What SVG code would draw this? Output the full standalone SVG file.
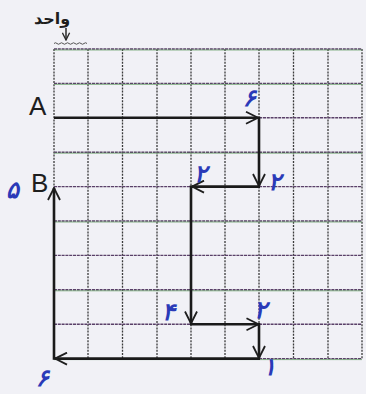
<svg xmlns="http://www.w3.org/2000/svg" width="366" height="394" viewBox="0 0 366 394">
<defs>
<marker id="ah" viewBox="0 0 14 14" refX="13" refY="7" markerWidth="14" markerHeight="14" markerUnits="userSpaceOnUse" orient="auto">
<path d="M1,1 L13,7 L1,13" fill="none" stroke="#1e1e1e" stroke-width="1.8"/>
</marker>
<marker id="ahs" viewBox="0 0 10 10" refX="9" refY="5" markerWidth="9" markerHeight="9" markerUnits="userSpaceOnUse" orient="auto">
<path d="M1,1 L9,5 L1,9" fill="none" stroke="#2a2a2a" stroke-width="1.5"/>
</marker>
</defs>
<style>
.vl{stroke:#3a3a3a;stroke-width:1.3;stroke-dasharray:2 1.2;fill:none}
.hl{stroke:#5a4068;stroke-width:1.4;stroke-dasharray:3 0.8;fill:none}
.hg{stroke:#5a9a5a;stroke-width:0.7;fill:none}
.p{stroke:#1a1a1a;stroke-width:2.6;fill:none;marker-end:url(#ah)}
.lab{font-family:"Liberation Sans",Arial,sans-serif;font-size:26px;fill:#1e1e1e}
.num{font-family:"Noto Sans","DejaVu Sans",sans-serif;font-size:24px;font-weight:bold;fill:#2a3ab8;font-style:italic}
</style>
<rect width="366" height="394" fill="#f1f1f6"/>
<g id="grid">
<path class="vl" d="M54,49V359M88,49V359M122.5,49V359M157,49V359M191,49V359M225,49V359M259,49V359M293.5,49V359M328,49V359M362,49V359"/>
<path class="hl" d="M54,49H362M54,83.4H362M54,117.8H362M54,152.2H362M54,186.6H362M54,221H362M54,255.4H362M54,289.8H362M54,324.2H362M54,358.6H362"/>
<path class="hg" d="M54,50H362M54,84.4H362M54,153.2H362M54,222H362M54,290.8H362M54,359.6H362"/>
</g>
<g id="unit">
<text x="52" y="24" font-family="'Noto Sans','DejaVu Sans',sans-serif" font-size="16" font-weight="bold" fill="#1e1e1e" text-anchor="middle">واحد</text>
<line x1="66" y1="28" x2="66" y2="40" stroke="#2a2a2a" stroke-width="1.5" marker-end="url(#ahs)"/>
<path d="M54,43.5 q1.5,-1.5 3,0 t3,0 t3,0 t3,0 t3,0 t3,0 t3,0 t3,0 t3,0 t3,0 t3,0" stroke="#555" stroke-width="1" fill="none"/>
</g>
<g id="A"><text class="lab" x="29" y="115">A</text></g>
<g id="B"><text class="lab" x="31" y="192">B</text></g>
<g id="connectors">
<line class="p" x1="54" y1="117.8" x2="258" y2="117.8"/>
<line class="p" x1="259" y1="116.6" x2="259" y2="186"/>
<line class="p" x1="260" y1="186.6" x2="192" y2="186.6"/>
<line class="p" x1="191" y1="185.4" x2="191" y2="323.5"/>
<line class="p" x1="190" y1="324.2" x2="258.5" y2="324.2"/>
<line class="p" x1="259" y1="323" x2="259" y2="358"/>
<line class="p" x1="260" y1="358.6" x2="55" y2="358.6"/>
<line class="p" x1="54" y1="359.8" x2="54" y2="188"/>
</g>
<g id="labels">
<text class="num" x="243" y="106">۶</text>
<text class="num" x="268" y="190">۲</text>
<text class="num" x="194" y="182">۲</text>
<text class="num" x="162" y="320">۴</text>
<text class="num" x="254" y="318">۲</text>
<text class="num" x="263" y="375">۱</text>
<text class="num" x="36" y="386">۶</text>
<text class="num" x="6" y="198" font-size="26">۵</text>
</g>
</svg>
